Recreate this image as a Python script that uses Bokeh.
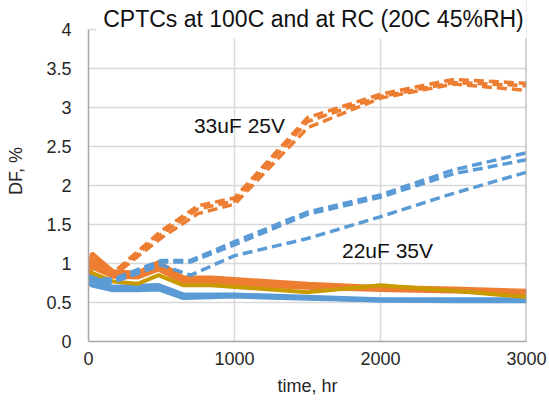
from bokeh.plotting import figure
from bokeh.models import Label, FixedTicker, Range1d, Span
from bokeh.embed import file_html
from bokeh.resources import INLINE

# ---- data ----
t_dash_o = [0, 24, 168, 500, 750, 1000, 1500, 2000, 2500, 3000]
o_d1 = [0.92, 1.08, 0.88, 1.42, 1.74, 1.84, 2.87, 3.17, 3.36, 3.31]
o_d2 = [0.90, 1.04, 0.86, 1.38, 1.70, 1.80, 2.82, 3.14, 3.32, 3.28]
o_d3 = [0.88, 1.00, 0.84, 1.33, 1.64, 1.76, 2.74, 3.12, 3.30, 3.22]

t_dash_b = [0, 24, 168, 500, 700, 1000, 1500, 2000, 2500, 3000]
b_d1 = [0.85, 0.80, 0.80, 1.04, 1.04, 1.28, 1.66, 1.88, 2.20, 2.42]
b_d2 = [0.83, 0.78, 0.78, 1.02, 1.02, 1.24, 1.63, 1.85, 2.15, 2.33]
b_d3 = [0.82, 0.77, 0.76, 0.98, 0.85, 1.10, 1.32, 1.60, 1.90, 2.17]

t_solid = [0, 24, 168, 336, 480, 650, 840, 1000, 1500, 2000, 2500, 3000]
o_s1 = [0.90, 1.13, 0.90, 0.88, 1.02, 0.82, 0.82, 0.80, 0.74, 0.70, 0.68, 0.65]
o_s2 = [0.88, 1.05, 0.88, 0.86, 0.98, 0.80, 0.80, 0.77, 0.72, 0.68, 0.66, 0.64]
o_s3 = [0.86, 1.00, 0.85, 0.84, 0.95, 0.78, 0.77, 0.75, 0.70, 0.67, 0.65, 0.62]
o_s4 = [0.85, 0.95, 0.83, 0.82, 0.92, 0.76, 0.75, 0.73, 0.69, 0.66, 0.64, 0.61]
g_s1 = [0.95, 0.88, 0.77, 0.74, 0.85, 0.72, 0.72, 0.70, 0.63, 0.72, 0.65, 0.57]
b_s1 = [0.82, 0.78, 0.70, 0.71, 0.72, 0.60, 0.60, 0.60, 0.57, 0.54, 0.54, 0.54]
b_s2 = [0.78, 0.85, 0.68, 0.68, 0.69, 0.58, 0.58, 0.59, 0.56, 0.53, 0.53, 0.53]
b_s3 = [0.76, 0.72, 0.66, 0.66, 0.67, 0.56, 0.57, 0.58, 0.55, 0.53, 0.52, 0.52]

x_ticks = [0, 1000, 2000, 3000]
y_ticks = [0, 0.5, 1, 1.5, 2, 2.5, 3, 3.5, 4]
x_max = 3000
y_max = 4

title_text = "CPTCs at 100C and at RC (20C 45%RH)"
ann1 = ("33uF 25V", 1034, 2.77)
ann2 = ("22uF 35V", 2048, 1.17)

ORANGE = "#ED7D31"
BLUE = "#5B9BD5"
GOLD = "#C99A00"
FONT = "Liberation Sans"
AXIS_GRAY = "#A6A6A6"

# frame: left 88, right 526, top 0 (axis ends at y=4 -> px 29), bottom 341
p = figure(width=549, height=403, output_backend="svg", toolbar_location=None,
           x_range=Range1d(0, x_max), y_range=Range1d(0, y_max + 29 / 78),
           min_border_left=88, min_border_right=23, min_border_top=0, min_border_bottom=62)
p.background_fill_color = "white"
p.border_fill_color = "white"
p.outline_line_color = None

for ax in (p.xaxis, p.yaxis):
    ax.axis_line_color = AXIS_GRAY
    ax.axis_line_width = 1.5
    ax.major_tick_line_color = None
    ax.minor_tick_line_color = None
    ax.major_tick_out = 0
    ax.major_tick_in = 0
    ax.major_label_text_font = FONT
    ax.major_label_text_font_size = "18px"
    ax.major_label_text_color = "#262626"
    ax.axis_label_text_font = FONT
    ax.axis_label_text_font_size = "18px"
    ax.axis_label_text_font_style = "normal"
    ax.axis_label_text_color = "#262626"

p.xaxis.ticker = FixedTicker(ticks=x_ticks)
p.yaxis.ticker = FixedTicker(ticks=y_ticks)
p.yaxis.bounds = (0, y_max)
p.yaxis.major_label_overrides = {v: ("%g" % v) for v in y_ticks}
p.xaxis.axis_label = "time, hr"
p.yaxis.axis_label = "DF, %"
p.xaxis.major_label_standoff = 10
p.xaxis.axis_label_standoff = 8
p.yaxis.major_label_standoff = 17
p.yaxis.axis_label_standoff = 17

p.xgrid.grid_line_color = "#D9D9D9"
p.ygrid.grid_line_color = "#D9D9D9"
p.xgrid.grid_line_width = 1.5
p.ygrid.grid_line_width = 1.5

# solid lines (room conditions)
for ys in (b_s1, b_s2, b_s3):
    p.line(t_solid, ys, line_color=BLUE, line_width=4.5)
for ys in (o_s4, o_s3, o_s2, o_s1):
    p.line(t_solid, ys, line_color=ORANGE, line_width=4)
p.line(t_solid, g_s1, line_color=GOLD, line_width=4)

# dashed lines (100C)
for ys in (b_d1, b_d2, b_d3):
    p.line(t_dash_b, ys, line_color=BLUE, line_width=3.5, line_dash="10 5")
for ys in (o_d1, o_d2, o_d3):
    p.line(t_dash_o, ys, line_color=ORANGE, line_width=3.5, line_dash="10 5")

# right border of plot area
p.add_layout(Span(location=x_max, dimension="height", line_color=AXIS_GRAY, line_width=2))

for txt, xx, yy in (ann1, ann2):
    p.add_layout(Label(x=xx, y=yy, text=txt, text_align="center", text_baseline="middle",
                       text_font=FONT, text_font_size="21px", text_color="#111111"))

p.add_layout(Label(x=1541, y=(341 - 18) / 78, text=title_text, text_align="center",
                   text_baseline="middle", text_font=FONT, text_font_size="23px",
                   text_color="#111111", background_fill_color="white", padding=7))

open("out.html", "w").write(file_html(p, INLINE))
